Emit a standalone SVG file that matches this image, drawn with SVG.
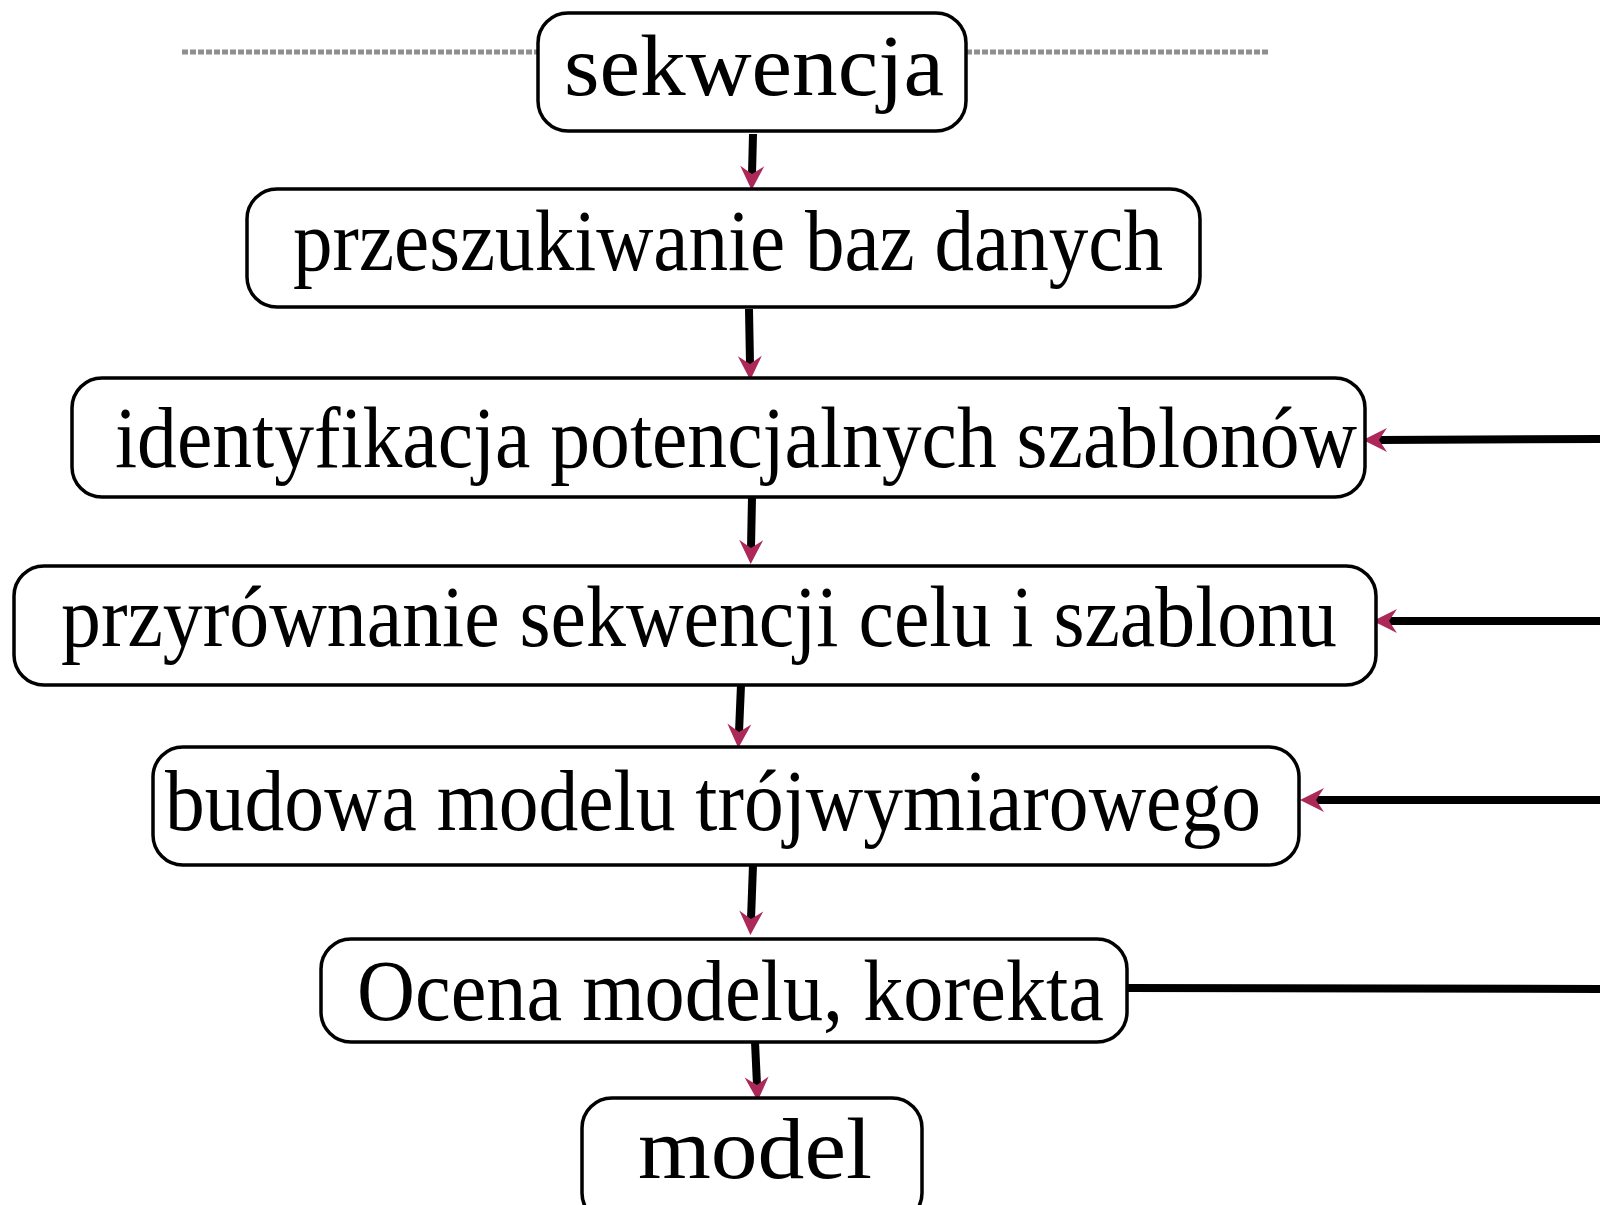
<svg xmlns="http://www.w3.org/2000/svg" width="1600" height="1205" viewBox="0 0 1600 1205">
<defs>
<marker id="ah" markerUnits="userSpaceOnUse" markerWidth="30" markerHeight="30" viewBox="-25 -15 30 30" refX="-16" refY="0" orient="auto">
<path d="M0,0 L-24,-12 L-16,0 L-24,12 Z" fill="#ab2858"/>
</marker>
<style>
.box{fill:#fff;stroke:#000;stroke-width:3.5}
.t{font-family:"Liberation Serif","DejaVu Serif",serif;font-size:86px;fill:#000}
.c{stroke:#000;stroke-width:8;fill:none}
.a{marker-end:url(#ah)}
.dash{stroke:#8f8f8f;stroke-width:5;stroke-dasharray:6 2;fill:none}
</style>
</defs>
<rect width="1600" height="1205" fill="#fff"/>
<g id="divider">
<line class="dash" x1="182" y1="52" x2="540" y2="52"/>
<line class="dash" x1="966" y1="52" x2="1270" y2="52"/>
</g>
<g id="connectors">
<line class="c a" x1="753" y1="134" x2="752" y2="174"/>
<line class="c a" x1="749" y1="309" x2="750" y2="364"/>
<line class="c a" x1="752" y1="497" x2="751" y2="548"/>
<line class="c a" x1="741" y1="685" x2="739" y2="732"/>
<line class="c a" x1="753" y1="865" x2="751" y2="919"/>
<line class="c a" x1="755" y1="1042" x2="757" y2="1085"/>
<line class="c a" x1="1600" y1="439" x2="1379" y2="440"/>
<line class="c a" x1="1600" y1="621" x2="1389" y2="621"/>
<line class="c a" x1="1600" y1="800" x2="1316" y2="800"/>
<line class="c" x1="1127" y1="988" x2="1600" y2="989"/>
</g>
<g id="n1">
<rect class="box" x="538" y="13" width="428" height="118" rx="30"/>
<text class="t" x="564" y="95" textLength="380" lengthAdjust="spacingAndGlyphs">sekwencja</text>
</g>
<g id="n2">
<rect class="box" x="247" y="189" width="953" height="118" rx="30"/>
<text class="t" x="293" y="270" textLength="870" lengthAdjust="spacingAndGlyphs">przeszukiwanie baz danych</text>
</g>
<g id="n3">
<rect class="box" x="72" y="378" width="1293" height="119" rx="30"/>
<text class="t" x="115" y="467" textLength="1242" lengthAdjust="spacingAndGlyphs">identyfikacja potencjalnych szablonów</text>
</g>
<g id="n4">
<rect class="box" x="14" y="566" width="1362" height="119" rx="30"/>
<text class="t" x="61" y="646" textLength="1276" lengthAdjust="spacingAndGlyphs">przyrównanie sekwencji celu i szablonu</text>
</g>
<g id="n5">
<rect class="box" x="153" y="747" width="1146" height="118" rx="30"/>
<text class="t" x="165" y="830" textLength="1096" lengthAdjust="spacingAndGlyphs">budowa modelu trójwymiarowego</text>
</g>
<g id="n6">
<rect class="box" x="321" y="939" width="806" height="103" rx="30"/>
<text class="t" x="357" y="1020" textLength="747" lengthAdjust="spacingAndGlyphs">Ocena modelu, korekta</text>
</g>
<g id="n7">
<rect class="box" x="582" y="1098" width="340" height="125" rx="30"/>
<text class="t" x="638" y="1178" textLength="234" lengthAdjust="spacingAndGlyphs">model</text>
</g>
</svg>
